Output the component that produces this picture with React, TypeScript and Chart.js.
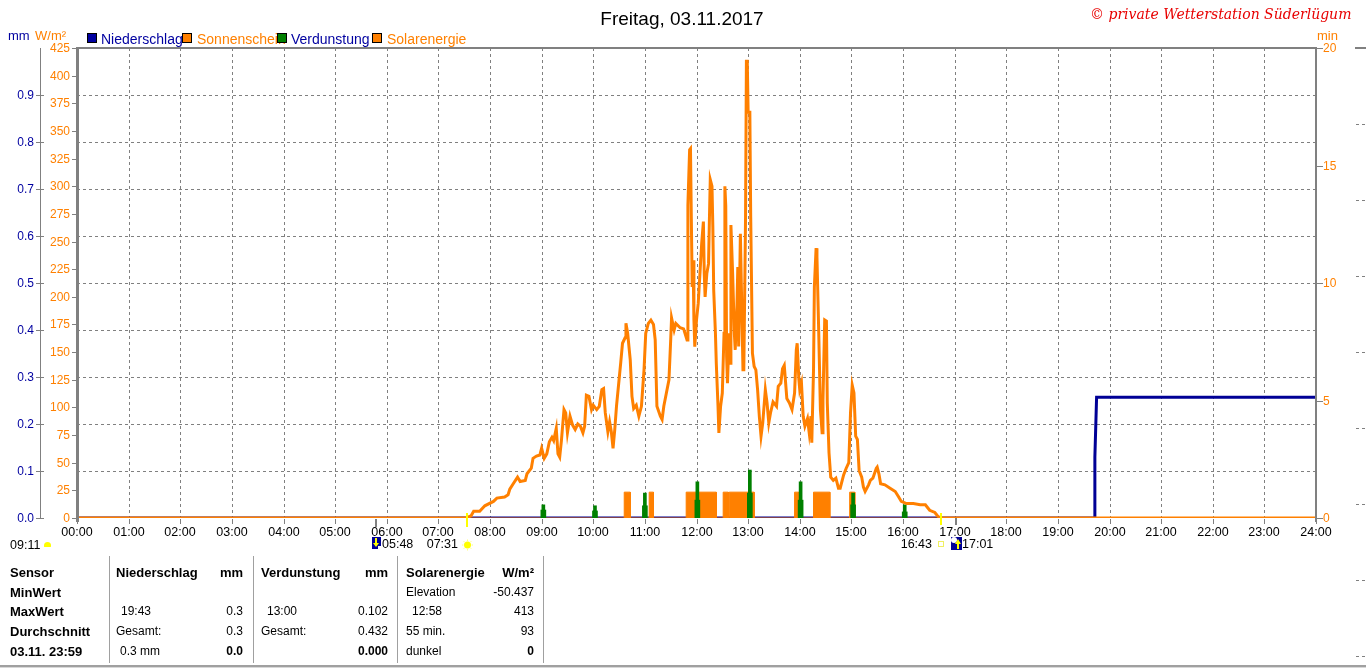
import React, { useEffect, useRef } from "react";
import { Chart, registerables } from "chart.js";

Chart.register(...registerables);

// ---------------- data ----------------
const hourLabels = [
  "00:00", "01:00", "02:00", "03:00", "04:00", "05:00", "06:00", "07:00", "08:00",
  "09:00", "10:00", "11:00", "12:00", "13:00", "14:00", "15:00", "16:00", "17:00",
  "18:00", "19:00", "20:00", "21:00", "22:00", "23:00", "24:00",
];
const wmTicks = [0, 25, 50, 75, 100, 125, 150, 175, 200, 225, 250, 275, 300, 325, 350, 375, 400, 425];
const mmTicks = ["0.0", "0.1", "0.2", "0.3", "0.4", "0.5", "0.6", "0.7", "0.8", "0.9"];
const minTicks = [0, 5, 10, 15, 20];

// Solarenergie (W/m²), time in minutes since midnight
const solarTimes = [
  0, 452, 458, 461, 468, 474, 484, 488, 497, 501,
  503, 507, 512, 515, 521, 523, 528, 530, 534, 538,
  540, 543, 546, 549, 552, 554, 557, 559, 561, 563,
  566, 568, 570, 573, 576, 579, 582, 585, 588, 590,
  592, 595, 598, 600, 604, 607, 610, 612, 614, 617,
  619, 621, 623, 625, 627, 630, 632, 634, 637, 638,
  640, 643, 645, 647, 650, 653, 656, 659, 661, 664,
  667, 670, 672, 674, 678, 680, 682, 685, 688, 690,
  691, 694, 696, 701, 705, 709, 710, 712, 713, 714,
  715, 716, 717, 718, 720, 722, 724, 726, 728, 729,
  730, 732, 734, 735, 736, 738, 739, 740, 742, 743,
  745, 746, 748, 750, 752, 753, 754, 755, 756, 758,
  759, 760, 762, 764, 765, 767, 768, 769, 771, 772,
  774, 775, 777, 778, 779, 780, 782, 783, 785, 787,
  789, 791, 793, 795, 797, 800, 802, 804, 806, 809,
  813, 815, 818, 820, 822, 825, 828, 831, 834, 836,
  837, 839, 840, 842, 844, 846, 849, 851, 853, 854,
  856, 857, 859, 860, 862, 864, 866, 867, 869, 871,
  872, 874, 876, 879, 882, 885, 887, 891, 894, 897,
  899, 901, 903, 905, 907, 909, 912, 914, 916, 920,
  922, 925, 929, 930, 932, 934, 939, 945, 951, 955,
  958, 964, 972, 980, 986, 991, 997, 1000, 1003, 1440,
];
const solarWm = [
  0, 0, 2, 6, 6, 11, 15, 18, 19, 21,
  26, 31, 37, 33, 34, 40, 45, 54, 56, 57,
  63, 54, 58, 69, 73, 70, 81, 58, 55, 70,
  98, 95, 77, 92, 84, 80, 85, 83, 77, 83,
  111, 110, 98, 102, 98, 101, 116, 117, 95, 78,
  87, 78, 63, 80, 101, 125, 141, 158, 163, 176,
  167, 143, 110, 99, 102, 92, 101, 134, 167, 176,
  179, 175, 161, 101, 92, 89, 101, 113, 125, 161,
  181, 170, 176, 172, 171, 161, 283, 333, 334, 270,
  209, 233, 179, 155, 179, 194, 221, 248, 268, 221,
  200, 221, 230, 270, 306, 300, 263, 206, 167, 140,
  101, 77, 101, 113, 167, 300, 282, 146, 122, 167,
  140, 265, 221, 167, 152, 191, 227, 155, 257, 215,
  134, 134, 272, 413, 413, 367, 367, 272, 149, 137,
  134, 116, 92, 74, 86, 116, 104, 86, 95, 105,
  101, 119, 122, 135, 138, 108, 104, 98, 113, 152,
  158, 125, 116, 122, 92, 83, 90, 77, 92, 68,
  134, 209, 244, 236, 170, 98, 77, 107, 179, 178,
  104, 59, 37, 34, 36, 27, 27, 39, 45, 50,
  95, 120, 113, 74, 71, 43, 37, 28, 24, 30,
  34, 36, 45, 46, 40, 31, 30, 27, 24, 19,
  15, 13, 13, 12, 12, 7, 5, 2, 0, 0,
];

// Sonnenschein (min) – sunny periods
const sunStart = [636, 665, 708, 751, 758, 834, 856, 898];
const sunEnd = [643, 670, 743, 757, 787, 839, 875, 904];
const sunMinutes = [1.1, 1.1, 1.1, 1.1, 1.1, 1.1, 1.1, 1.1];

// Verdunstung (mm)
const evapTimes = [542, 602, 660, 721, 782, 841, 902, 962];
const evapPeak = [0.028, 0.026, 0.053, 0.077, 0.102, 0.077, 0.053, 0.028];
const evapBase = [0.017, 0.015, 0.026, 0.038, 0.053, 0.038, 0.028, 0.013];

// Niederschlag (mm)
const rainTimes = [0, 1182, 1183, 1185, 1440];
const rainMm = [0, 0, 0.13, 0.257, 0.257];

// Sun / moon events (minutes) and their labels
const eventTimes = [348, 452, 1003, 1021];
const eventLabels = ["05:48", "07:31", "16:43", "17:01"];

// ---------------- styles ----------------
const ORANGE = "#ff8000";
const BLUE = "#0000a0";
const NAVY = "#000096";
const GREEN = "#008000";
const GRAY = "#808080";
const YELLOW = "#ffff00";
const FONT = "'Liberation Sans', Arial, sans-serif";

const axesPlugin = {
  id: "customAxes",
  beforeDatasetsDraw(chart: any) {
    const { ctx, chartArea: a, scales } = chart;
    ctx.save();
    ctx.strokeStyle = GRAY;
    ctx.lineWidth = 1;
    ctx.setLineDash([3, 3]);
    for (let h = 1; h < hourLabels.length - 1; h++) {
      const x = Math.round(scales.x.getPixelForValue(h * 60)) + 0.5;
      ctx.beginPath();
      ctx.moveTo(x, a.top);
      ctx.lineTo(x, a.bottom);
      ctx.stroke();
    }
    for (let i = 1; i < mmTicks.length; i++) {
      const y = Math.round(scales.mm.getPixelForValue(parseFloat(mmTicks[i]))) + 0.5;
      ctx.beginPath();
      ctx.moveTo(a.left, y);
      ctx.lineTo(a.right, y);
      ctx.stroke();
    }
    ctx.restore();
  },
  afterDatasetsDraw(chart: any) {
    const { ctx, chartArea: a, scales } = chart;
    ctx.save();
    ctx.setLineDash([]);
    // frame
    ctx.fillStyle = GRAY;
    ctx.fillRect(a.left - 1, a.top - 1, a.right - a.left + 2, 2);
    ctx.fillRect(a.left - 1, a.top - 1, 3, a.bottom - a.top + 5);
    ctx.fillRect(a.right - 1, a.top - 1, 2, a.bottom - a.top + 5);
    // mm axis
    ctx.fillRect(40, a.top, 1, a.bottom - a.top);
    ctx.font = `12px ${FONT}`;
    ctx.textBaseline = "middle";
    mmTicks.forEach((t) => {
      const y = Math.round(scales.mm.getPixelForValue(parseFloat(t)));
      ctx.fillStyle = GRAY;
      ctx.fillRect(36, y, 8, 1);
      ctx.fillStyle = BLUE;
      ctx.textAlign = "right";
      ctx.fillText(t, 34, y + 1);
    });
    // W/m² axis
    wmTicks.forEach((v) => {
      const y = Math.round(scales.wm.getPixelForValue(v));
      ctx.fillStyle = GRAY;
      ctx.fillRect(a.left - 5, y, 4, 1);
      ctx.fillStyle = ORANGE;
      ctx.textAlign = "right";
      ctx.fillText(String(v), a.left - 7, y + 1);
    });
    // min axis
    minTicks.forEach((v) => {
      const y = Math.round(scales.min.getPixelForValue(v));
      ctx.fillStyle = GRAY;
      ctx.fillRect(a.right + 1, y, 6, 1);
      ctx.fillStyle = ORANGE;
      ctx.textAlign = "left";
      ctx.fillText(String(v), a.right + 7, y + 1);
    });
    // hour labels
    ctx.font = `12.5px ${FONT}`;
    hourLabels.forEach((lab, i) => {
      const x = Math.round(scales.x.getPixelForValue(i * 60));
      ctx.fillStyle = GRAY;
      ctx.fillRect(x, a.bottom + 1, 1, 5);
      ctx.fillStyle = "#000";
      ctx.textAlign = "center";
      ctx.fillText(lab, x, a.bottom + 15);
    });
    // event markers
    ctx.font = `12.5px ${FONT}`;
    const ty = a.bottom + 27;
    eventTimes.forEach((t, i) => {
      const x = Math.round(scales.x.getPixelForValue(t));
      ctx.textAlign = "left";
      if (i === 0) {
        ctx.fillStyle = GRAY;
        ctx.fillRect(x - 1, a.bottom + 1, 2, 8);
        ctx.fillStyle = NAVY;
        ctx.fillRect(x - 4, ty - 8, 9, 12);
        ctx.fillStyle = YELLOW;
        ctx.fillRect(x - 1, ty - 7, 2, 7);
        ctx.beginPath();
        ctx.moveTo(x - 3, ty - 2);
        ctx.lineTo(x + 3, ty - 2);
        ctx.lineTo(x, ty + 2);
        ctx.fill();
        ctx.fillStyle = "#fff";
        ctx.fillRect(x + 2, ty + 1, 3, 3);
        ctx.fillStyle = "#000";
        ctx.fillText(eventLabels[i], x + 6, ty);
      } else if (i === 1) {
        ctx.fillStyle = YELLOW;
        ctx.fillRect(x, a.bottom - 5, 2, 14);
        const cx = x + 1.5;
        ctx.beginPath();
        ctx.arc(cx, ty, 3.5, 0, Math.PI * 2);
        ctx.fill();
        ctx.strokeStyle = "#ffff80";
        ctx.lineWidth = 1;
        for (let k = 0; k < 8; k++) {
          const ang = (k * Math.PI) / 4;
          ctx.beginPath();
          ctx.moveTo(cx + Math.cos(ang) * 4, ty + Math.sin(ang) * 4);
          ctx.lineTo(cx + Math.cos(ang) * 5.5, ty + Math.sin(ang) * 5.5);
          ctx.stroke();
        }
        ctx.fillStyle = "#000";
        ctx.textAlign = "right";
        ctx.fillText(eventLabels[i], x - 8, ty);
      } else if (i === 2) {
        ctx.fillStyle = YELLOW;
        ctx.fillRect(x, a.bottom - 5, 2, 12);
        ctx.strokeStyle = "#f0f060";
        ctx.lineWidth = 1;
        ctx.strokeRect(x - 1.5, ty - 3.5, 5, 5);
        ctx.fillStyle = "#000";
        ctx.textAlign = "right";
        ctx.fillText(eventLabels[i], x - 8, ty);
      } else {
        ctx.fillStyle = GRAY;
        ctx.fillRect(x, a.bottom, 2, 7);
        ctx.fillStyle = NAVY;
        ctx.fillRect(x - 4, ty - 8, 11, 13);
        ctx.fillStyle = "#fff";
        ctx.beginPath();
        ctx.arc(x - 1, ty - 5, 3, 0, Math.PI * 2);
        ctx.fill();
        ctx.fillStyle = YELLOW;
        ctx.fillRect(x + 2, ty - 3, 2, 7);
        ctx.beginPath();
        ctx.moveTo(x, ty - 1);
        ctx.lineTo(x + 6, ty - 1);
        ctx.lineTo(x + 3, ty - 6);
        ctx.fill();
        ctx.fillStyle = "#000";
        ctx.fillText(eventLabels[i], x + 7, ty);
      }
    });
    // fragment of the neighbouring chart at the right edge
    ctx.fillStyle = GRAY;
    ctx.fillRect(1355, a.top - 1, 11, 2);
    for (let y = 124; y < 670; y += 76) {
      ctx.fillRect(1356, y, 3, 1);
      ctx.fillRect(1362, y, 3, 1);
    }
    ctx.restore();
  },
};

type TxtProps = {
  x: number;
  y: number;
  text: string;
  color?: string;
  size?: number;
  bold?: boolean;
  align?: "left" | "right" | "center";
  italic?: boolean;
  family?: string;
};

function Txt({ x, y, text, color = "#000", size = 12, bold = false, align = "left", italic = false, family = FONT }: TxtProps) {
  const lh = Math.round(size * 1.3);
  const style: React.CSSProperties = {
    position: "absolute",
    top: y - lh / 2,
    lineHeight: `${lh}px`,
    fontSize: size,
    fontFamily: family,
    fontWeight: bold ? "bold" : "normal",
    fontStyle: italic ? "italic" : "normal",
    color,
    whiteSpace: "nowrap",
  };
  if (align === "left") style.left = x;
  else if (align === "right") style.right = 1366 - x;
  else {
    style.left = x;
    style.transform = "translateX(-50%)";
  }
  return <span style={style}>{text}</span>;
}

function Box({ x, y, color }: { x: number; y: number; color: string }) {
  return (
    <div
      style={{
        position: "absolute",
        left: x,
        top: y,
        width: 8,
        height: 8,
        background: color,
        border: "1px solid #000",
      }}
    />
  );
}

const tableRows = [572, 592, 611, 631, 651];
const tableSeps = [109, 253, 397, 543];

export default function App() {
  const ref = useRef<HTMLCanvasElement>(null);

  useEffect(() => {
    const solarData = solarTimes.map((t, i) => ({ x: t, y: solarWm[i] }));
    const sunData: { x: number; y: number }[] = [{ x: 0, y: 0 }];
    sunStart.forEach((s, i) => {
      sunData.push({ x: s, y: 0 }, { x: s, y: sunMinutes[i] }, { x: sunEnd[i], y: sunMinutes[i] }, { x: sunEnd[i], y: 0 });
    });
    sunData.push({ x: 1440, y: 0 });
    const peakData = evapTimes.map((t, i) => ({ x: t, y: evapPeak[i] }));
    const baseData = evapTimes.map((t, i) => ({ x: t, y: evapBase[i] }));
    const rainData = rainTimes.map((t, i) => ({ x: t, y: rainMm[i] }));

    const chart = new Chart(ref.current as HTMLCanvasElement, {
      type: "line",
      data: {
        datasets: [
          {
            label: "Solarenergie",
            data: solarData,
            borderColor: ORANGE,
            borderWidth: 3,
            pointRadius: 0,
            fill: false,
            yAxisID: "wm",
            order: 0,
          } as any,
          {
            type: "bar",
            label: "Verdunstung",
            data: peakData,
            backgroundColor: GREEN,
            barThickness: 3,
            grouped: false,
            yAxisID: "mm",
            order: 1,
          } as any,
          {
            type: "bar",
            label: "Verdunstung Basis",
            data: baseData,
            backgroundColor: GREEN,
            barThickness: 5,
            grouped: false,
            yAxisID: "mm",
            order: 2,
          } as any,
          {
            label: "Sonnenschein",
            data: sunData,
            borderColor: ORANGE,
            borderWidth: 1,
            backgroundColor: ORANGE,
            fill: "origin",
            pointRadius: 0,
            yAxisID: "min",
            order: 3,
          } as any,
          {
            label: "Niederschlag",
            data: rainData,
            borderColor: NAVY,
            borderWidth: 3,
            pointRadius: 0,
            fill: false,
            yAxisID: "mm",
            order: 4,
          } as any,
        ],
      },
      options: {
        animation: false,
        responsive: false,
        events: [],
        layout: { padding: { left: 77, top: 48, right: 50, bottom: 152 } },
        elements: { line: { tension: 0 } },
        plugins: {
          legend: { display: false },
          tooltip: { enabled: false },
          title: { display: false },
        },
        scales: {
          x: { type: "linear", min: 0, max: 1440, offset: false, display: false },
          wm: { type: "linear", position: "left", min: 0, max: 425, display: false },
          mm: { type: "linear", position: "left", min: 0, max: 1.0, display: false },
          min: { type: "linear", position: "right", min: 0, max: 20, display: false },
        },
      } as any,
      plugins: [axesPlugin],
    });
    return () => chart.destroy();
  }, []);

  return (
    <div
      style={{
        position: "absolute",
        left: 0,
        top: 0,
        width: 1366,
        height: 670,
        background: "#fff",
        overflow: "hidden",
        fontFamily: FONT,
      }}
    >
      <canvas ref={ref} width={1366} height={670} style={{ position: "absolute", left: 0, top: 0, width: 1366, height: 670 }} />

      <Txt x={682} y={18} text="Freitag, 03.11.2017" size={19} align="center" />
      <Txt
        x={1090}
        y={14}
        text="© private Wetterstation Süderlügum"
        color="#e80000"
        size={14}
        italic
        family="'DejaVu Serif', serif"
      />

      <Txt x={8} y={35} text="mm" color={BLUE} size={13} />
      <Txt x={35} y={35} text="W/m²" color={ORANGE} size={13} />
      <Txt x={1317} y={35} text="min" color={ORANGE} size={13} />

      <Box x={87} y={33} color={BLUE} />
      <Txt x={101} y={39} text="Niederschlag" color={BLUE} size={14} />
      <Txt x={197} y={39} text="Sonnenschein" color={ORANGE} size={14} />
      <Box x={182} y={33} color={ORANGE} />
      <Box x={277} y={33} color={GREEN} />
      <Txt x={291} y={39} text="Verdunstung" color={BLUE} size={14} />
      <Box x={372} y={33} color={ORANGE} />
      <Txt x={387} y={39} text="Solarenergie" color={ORANGE} size={14} />

      <Txt x={10} y={545} text="09:11" size={12.5} />
      <div
        style={{
          position: "absolute",
          left: 44,
          top: 542,
          width: 7,
          height: 5,
          background: YELLOW,
          borderRadius: "4px 4px 1px 1px",
        }}
      />

      {tableSeps.map((x) => (
        <div key={x} style={{ position: "absolute", left: x, top: 556, width: 1, height: 107, background: "#a0a0a0" }} />
      ))}
      <div style={{ position: "absolute", left: 0, top: 665, width: 1366, height: 2, background: "#a0a0a0" }} />
      <div style={{ position: "absolute", left: 0, top: 667, width: 1366, height: 1, background: "#d8d8d8" }} />

      <Txt x={10} y={tableRows[0]} text="Sensor" size={13} bold />
      <Txt x={10} y={tableRows[1]} text="MinWert" size={13} bold />
      <Txt x={10} y={tableRows[2]} text="MaxWert" size={13} bold />
      <Txt x={10} y={tableRows[3]} text="Durchschnitt" size={13} bold />
      <Txt x={10} y={tableRows[4]} text="03.11. 23:59" size={13} bold />

      <Txt x={116} y={tableRows[0]} text="Niederschlag" size={13} bold />
      <Txt x={243} y={tableRows[0]} text="mm" size={13} bold align="right" />
      <Txt x={121} y={tableRows[2]} text="19:43" />
      <Txt x={243} y={tableRows[2]} text="0.3" align="right" />
      <Txt x={116} y={tableRows[3]} text="Gesamt:" />
      <Txt x={243} y={tableRows[3]} text="0.3" align="right" />
      <Txt x={120} y={tableRows[4]} text="0.3 mm" />
      <Txt x={243} y={tableRows[4]} text="0.0" bold align="right" />

      <Txt x={261} y={tableRows[0]} text="Verdunstung" size={13} bold />
      <Txt x={388} y={tableRows[0]} text="mm" size={13} bold align="right" />
      <Txt x={267} y={tableRows[2]} text="13:00" />
      <Txt x={388} y={tableRows[2]} text="0.102" align="right" />
      <Txt x={261} y={tableRows[3]} text="Gesamt:" />
      <Txt x={388} y={tableRows[3]} text="0.432" align="right" />
      <Txt x={388} y={tableRows[4]} text="0.000" bold align="right" />

      <Txt x={406} y={tableRows[0]} text="Solarenergie" size={13} bold />
      <Txt x={534} y={tableRows[0]} text="W/m²" size={13} bold align="right" />
      <Txt x={406} y={tableRows[1]} text="Elevation" />
      <Txt x={534} y={tableRows[1]} text="-50.437" align="right" />
      <Txt x={412} y={tableRows[2]} text="12:58" />
      <Txt x={534} y={tableRows[2]} text="413" align="right" />
      <Txt x={406} y={tableRows[3]} text="55 min." />
      <Txt x={534} y={tableRows[3]} text="93" align="right" />
      <Txt x={406} y={tableRows[4]} text="dunkel" />
      <Txt x={534} y={tableRows[4]} text="0" bold align="right" />
    </div>
  );
}
